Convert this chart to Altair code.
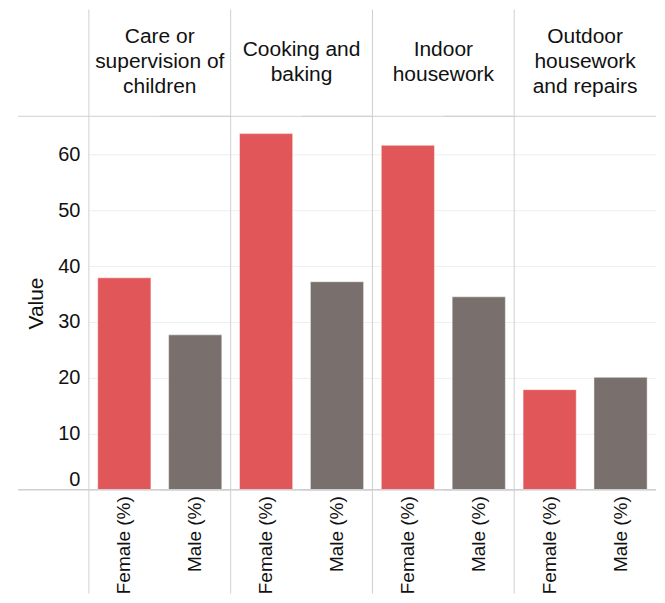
import altair as alt
import pandas as pd

# ---- data ----
categories = [
    "Care or|supervision of|children",
    "Cooking and|baking",
    "Indoor|housework",
    "Outdoor|housework|and repairs",
]
genders = ["Female (%)", "Male (%)"]
female_values = [37.9, 63.7, 61.6, 17.9]
male_values = [27.7, 37.2, 34.5, 20.1]
y_ticks = [0, 10, 20, 30, 40, 50, 60]
colors = ["#E15759", "#79706E"]

rows = []
for c, f, m in zip(categories, female_values, male_values):
    rows.append({"Activity": c, "Gender": genders[0], "Value": f})
    rows.append({"Activity": c, "Gender": genders[1], "Value": m})
df = pd.DataFrame(rows)

FONT = "Liberation Sans"
W, H = 142, 374
TOP = 107      # separator lines reach this far above the plot area
BOTTOM = 104   # and this far below it
LEFT = 71      # horizontal dividers reach this far left of the first panel
LH = 25        # header line height
LINE = "#d0d0d0"
TXT = "#111111"

bars = alt.Chart().mark_bar(stroke="#ffffff", strokeOpacity=0.45, strokeWidth=1).encode(
    x=alt.X(
        "Gender:N",
        sort=genders,
        scale=alt.Scale(paddingInner=0.25, paddingOuter=0.125),
        axis=alt.Axis(
            title=None, labelAngle=-90, labelAlign="right", labelBaseline="middle",
            labelFontSize=19, labelFont=FONT, labelColor=TXT, labelPadding=6,
            ticks=False, domain=False, grid=False,
        ),
    ),
    y=alt.Y(
        "Value:Q",
        scale=alt.Scale(domain=[0, 66.8], nice=False, zero=True),
        axis=alt.Axis(
            title="Value", values=y_ticks, labelFlush=True, labelFontSize=20,
            labelFont=FONT, labelColor=TXT, labelPadding=9, ticks=False, domain=False,
            grid=True, gridColor="#efefef", gridWidth=1,
            titleFont=FONT, titleFontSize=21, titleFontWeight="normal", titleColor=TXT,
            titlePadding=11,
        ),
    ),
    color=alt.Color("Gender:N", scale=alt.Scale(domain=genders, range=colors), legend=None),
)

one = alt.Chart().transform_filter(alt.datum.Gender == genders[0])

vrule = one.mark_rule(color=LINE, strokeWidth=1).encode(
    x=alt.value(0), y=alt.value(-TOP), y2=alt.value(H + BOTTOM)
)
htop = one.mark_rule(color=LINE, strokeWidth=1).encode(
    y=alt.value(0), x=alt.value(-LEFT), x2=alt.value(W)
)
hbot = one.mark_rule(color=LINE, strokeWidth=1.5).encode(
    y=alt.value(H), x=alt.value(-LEFT), x2=alt.value(W)
)
header_text = (
    one.transform_calculate(
        hdr_off=f"-(length(split(datum.Activity, '|')) - 1) * {LH / 2}"
    )
    .mark_text(
        lineBreak="|", baseline="middle", align="center", font=FONT, fontSize=21,
        lineHeight=LH, color=TXT,
    )
    .encode(
        text="Activity:N",
        x=alt.value(W / 2),
        y=alt.value(-54),
        yOffset=alt.YOffset("hdr_off:Q", scale=None),
    )
)

chart = (
    alt.layer(bars, vrule, htop, hbot, header_text, data=df)
    .properties(width=W, height=H)
    .facet(
        column=alt.Column(
            "Activity:N",
            sort=categories,
            title=None,
            header=alt.Header(labels=False),
        ),
        spacing=0,
        bounds="flush",
    )
    .properties(padding={"left": 9, "top": 0, "right": 0, "bottom": 0})
    .configure_view(stroke=None)
)

chart.save("out.html", embed_options={"renderer": "svg", "actions": False})
